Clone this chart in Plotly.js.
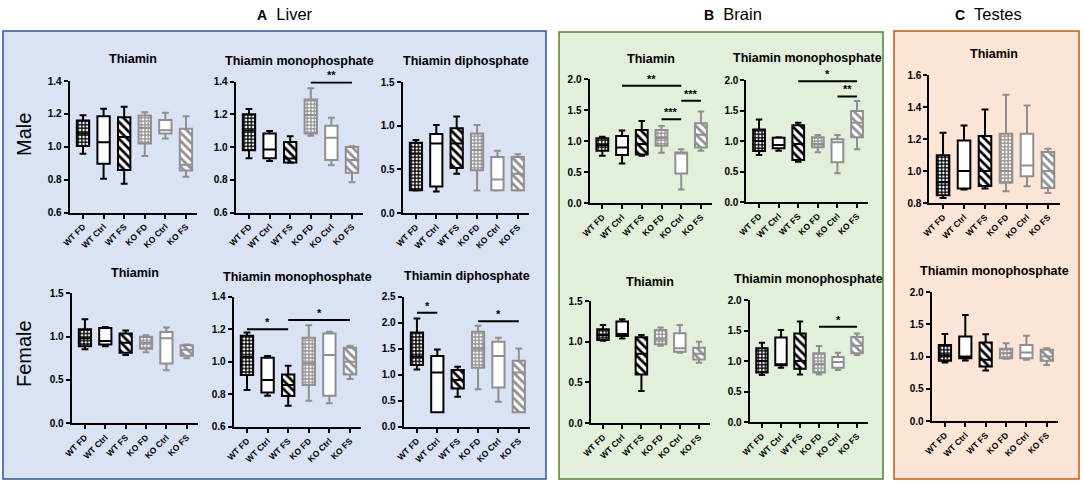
<!DOCTYPE html>
<html><head><meta charset="utf-8">
<script src="https://cdn.plot.ly/plotly-3.0.1.min.js"></script>
<style>html,body{margin:0;padding:0;background:#fff}#chart{width:1084px;height:483px}</style>
</head><body><div id="chart"></div>
<script>
const categories = ["WT FD","WT Ctrl","WT FS","KO FD","KO Ctrl","KO FS"];
// each row: [lower whisker, Q1, median, Q3, upper whisker] in category order
const liverMaleThiamin = [[0.957,1.004,1.08,1.16,1.192],[0.806,0.897,1.028,1.186,1.231],[0.775,0.858,1.06,1.18,1.243],[0.943,1.02,1.115,1.19,1.21],[1.05,1.08,1.10,1.162,1.207],[0.818,0.856,0.89,1.11,1.186]];
const liverMaleTMP = [[0.932,0.98,1.10,1.20,1.232],[0.914,0.932,0.984,1.082,1.098],[0.904,0.906,0.93,1.03,1.066],[1.068,1.082,1.195,1.29,1.359],[0.888,0.92,1.057,1.13,1.178],[0.785,0.842,0.92,1.0,1.004]];
const liverMaleTDP = [[0.258,0.26,0.68,0.804,0.835],[0.246,0.304,0.796,0.904,1.008],[0.45,0.515,0.796,0.97,1.104],[0.258,0.49,0.72,0.91,1.008],[0.258,0.26,0.385,0.642,0.712],[0.258,0.26,0.45,0.642,0.673]];
const liverFemaleThiamin = [[0.853,0.89,0.98,1.085,1.20],[0.89,0.91,0.95,1.10,1.112],[0.787,0.814,0.93,1.035,1.07],[0.82,0.86,0.93,1.0,1.015],[0.612,0.69,0.98,1.054,1.105],[0.75,0.78,0.85,0.90,0.91]];
const liverFemaleTMP = [[0.826,0.918,1.03,1.16,1.18],[0.79,0.811,0.887,1.025,1.035],[0.729,0.789,0.856,0.922,0.975],[0.76,0.856,0.99,1.148,1.225],[0.744,0.791,1.041,1.174,1.185],[0.893,0.922,1.0,1.086,1.098]];
const liverFemaleTDP = [[1.10,1.186,1.35,1.81,2.083],[0.276,0.28,1.04,1.36,1.487],[0.577,0.737,0.9,1.09,1.154],[0.718,1.135,1.5,1.827,1.942],[0.48,0.756,1.36,1.635,1.71],[0.276,0.28,1.04,1.27,1.506]];
const brainMaleThiamin = [[0.762,0.843,0.93,1.043,1.07],[0.638,0.773,0.897,1.081,1.168],[0.762,0.784,0.95,1.178,1.324],[0.81,0.924,1.05,1.178,1.243],[0.216,0.476,0.8,0.816,0.865],[0.843,0.897,1.1,1.286,1.476]];
const brainMaleTMP = [[0.77,0.836,1.0,1.19,1.354],[0.842,0.88,0.935,1.055,1.06],[0.66,0.69,0.95,1.26,1.30],[0.815,0.896,0.95,1.06,1.098],[0.47,0.65,0.978,1.027,1.098],[0.864,1.06,1.3,1.49,1.657]];
const brainFemaleThiamin = [[1.01,1.02,1.08,1.152,1.205],[1.04,1.07,1.095,1.247,1.275],[0.392,0.597,0.85,1.053,1.082],[0.95,0.967,1.03,1.144,1.173],[0.864,0.877,0.918,1.103,1.205],[0.741,0.782,0.85,0.926,1.0]];
const brainFemaleTMP = [[0.77,0.81,1.0,1.21,1.30],[0.89,0.93,0.945,1.384,1.51],[0.78,0.874,1.0,1.45,1.647],[0.78,0.81,0.95,1.126,1.247],[0.852,0.89,0.984,1.066,1.137],[1.10,1.126,1.25,1.395,1.45]];
const testesThiamin = [[0.832,0.848,0.93,1.098,1.239],[0.884,0.89,1.0,1.19,1.285],[0.89,0.906,1.0,1.218,1.384],[0.873,0.927,1.0,1.233,1.476],[0.904,0.967,1.035,1.233,1.41],[0.863,0.894,1.0,1.118,1.139]];
const testesTMP = [[0.907,0.933,1.02,1.18,1.35],[0.938,0.974,1.0,1.31,1.644],[0.783,0.845,0.95,1.216,1.345],[0.964,0.974,1.05,1.119,1.206],[0.948,0.974,1.062,1.18,1.32],[0.87,0.933,1.0,1.103,1.129]];
// significance: [from, to, level, label]
const sigLiverMaleTMP = [["KO FD","KO FS",1.394,"**"]];
const sigLiverFemaleTMP = [["WT FD","WT FS",1.20,"*"],["WT FS","KO FS",1.256,"*"]];
const sigLiverFemaleTDP = [["WT FD","WT Ctrl",2.19,"*"],["KO FD","KO FS",2.03,"*"]];
const sigBrainMaleThiamin = [["WT Ctrl","KO Ctrl",1.89,"**"],["KO FD","KO Ctrl",1.35,"***"],["KO Ctrl","KO FS",1.65,"***"]];
const sigBrainMaleTMP = [["WT FS","KO FS",1.98,"*"],["KO Ctrl","KO FS",1.73,"**"]];
const sigBrainFemaleTMP = [["KO FD","KO FS",1.56,"*"]];

const F = "Arial, 'Liberation Sans', sans-serif";
const W = 1084, H = 483;
const WT = "#000000", KO = "#8f8f8f";

const panels = [
 {rows:liverMaleThiamin, title:"Thiamin", yr:[0.6,1.4], dt:0.2, px:[69.6,197.3], py:[81,212.5], ty:59, sig:[]},
 {rows:liverMaleTMP, title:"Thiamin monophosphate", yr:[0.6,1.4], dt:0.2, px:[235.6,363.3], py:[81.5,212.5], ty:61, sig:sigLiverMaleTMP},
 {rows:liverMaleTDP, title:"Thiamin diphosphate", yr:[0,1.5], dt:0.5, px:[402.7,529], py:[82,213], ty:61.5, sig:[]},
 {rows:liverFemaleThiamin, title:"Thiamin", yr:[0,1.5], dt:0.5, px:[71.7,198], py:[293.3,423.3], ty:273, sig:[]},
 {rows:liverFemaleTMP, title:"Thiamin monophosphate", yr:[0.6,1.4], dt:0.2, px:[233.6,361.3], py:[296.7,426.7], ty:277, sig:sigLiverFemaleTMP},
 {rows:liverFemaleTDP, title:"Thiamin diphosphate", yr:[0,2.5], dt:0.5, px:[403.7,530], py:[296.7,426.7], ty:276, sig:sigLiverFemaleTDP},
 {rows:brainMaleThiamin, title:"Thiamin", yr:[0,2], dt:0.5, px:[589.5,711.8], py:[79,203], ty:59, sig:sigBrainMaleThiamin},
 {rows:brainMaleTMP, title:"Thiamin monophosphate", yr:[0,2], dt:0.5, px:[746.3,867.8], py:[80,202], ty:58, sig:sigBrainMaleTMP},
 {rows:brainFemaleThiamin, title:"Thiamin", yr:[0,1.5], dt:0.5, px:[590.5,709.6], py:[301,423], ty:282, sig:[]},
 {rows:brainFemaleTMP, title:"Thiamin monophosphate", yr:[0,2], dt:0.5, px:[749.6,867.5], py:[300,422], ty:279, sig:sigBrainFemaleTMP},
 {rows:testesThiamin, title:"Thiamin", yr:[0.8,1.6], dt:0.2, px:[929.4,1059.5], py:[75,203], ty:54, sig:[]},
 {rows:testesTMP, title:"Thiamin monophosphate", yr:[0,2], dt:0.5, px:[931.7,1058], py:[292,421], ty:271, sig:[]}
];

const traces = [];
const hdr = (x, letter, word) => ({xref:"paper", yref:"paper", x:x/W, y:1-14/H, xanchor:"center", yanchor:"middle",
  text:"<b><span style='font-size:14px'>" + letter + "</span></b>  " + word, showarrow:false, font:{family:F,size:16.5,color:"#000"}});
const layout = {
  width: W, height: H, margin:{l:0,r:0,t:0,b:0},
  paper_bgcolor:"#ffffff", plot_bgcolor:"rgba(0,0,0,0)",
  showlegend:false, boxmode:"overlay", barmode:"overlay",
  font:{family:F, color:"#000"},
  shapes:[
    {type:"rect", xref:"paper", yref:"paper", x0:3/W, x1:546/W, y0:1-479/H, y1:1-31/H, fillcolor:"#dae3f3", line:{color:"#2f5597", width:1.5}, layer:"below"},
    {type:"rect", xref:"paper", yref:"paper", x0:559/W, x1:883/W, y0:1-479/H, y1:1-32/H, fillcolor:"#e2efda", line:{color:"#548235", width:1.5}, layer:"below"},
    {type:"rect", xref:"paper", yref:"paper", x0:894/W, x1:1079/W, y0:1-479/H, y1:1-31/H, fillcolor:"#fbe5d6", line:{color:"#c55a11", width:1.5}, layer:"below"}
  ],
  annotations:[
    hdr(285, "A", "Liver"), hdr(733, "B", "Brain"), hdr(988, "C", "Testes"),
    {xref:"paper", yref:"paper", x:24/W, y:1-135/H, xanchor:"center", yanchor:"middle", text:"Male", textangle:-90, showarrow:false, font:{family:F,size:20,color:"#000"}},
    {xref:"paper", yref:"paper", x:24/W, y:1-354/H, xanchor:"center", yanchor:"middle", text:"Female", textangle:-90, showarrow:false, font:{family:F,size:20,color:"#000"}}
  ]
};

panels.forEach((p, i) => {
  const k = i + 1;
  const xa = "x" + (k === 1 ? "" : k), ya = "y" + (k === 1 ? "" : k);
  const xl = "xaxis" + (k === 1 ? "" : k), yl = "yaxis" + (k === 1 ? "" : k);
  const q1 = p.rows.map(r => r[1]);
  const q3 = p.rows.map(r => r[3]);
  traces.push({
    type:"bar", x:categories, base:q1, y:q3.map((v, j) => v - q1[j]), width:0.6,
    xaxis:xa, yaxis:ya, hoverinfo:"skip",
    marker:{color:"#ffffff", line:{width:0},
      pattern:{
        shape:categories.map(c => c.endsWith("FD") ? "+" : (c.endsWith("FS") ? "\\" : "")),
        fgcolor:categories.map(c => c.startsWith("WT") ? WT : KO),
        bgcolor:"#ffffff",
        size:categories.map(c => c.endsWith("FD") ? 3.5 : 6),
        solidity:categories.map(c => c.endsWith("FD") ? 0.6 : 0.45),
        fillmode:"replace"}}
  });
  [[0,3,WT],[3,6,KO]].forEach(([a, b, col]) => {
    const rows = p.rows.slice(a, b);
    traces.push({
      type:"box", x:categories.slice(a, b),
      lowerfence:rows.map(r => r[0]), q1:rows.map(r => r[1]), median:rows.map(r => r[2]),
      q3:rows.map(r => r[3]), upperfence:rows.map(r => r[4]),
      width:0.6, whiskerwidth:0.55, boxpoints:false,
      line:{color:col, width:2}, fillcolor:"rgba(0,0,0,0)",
      xaxis:xa, yaxis:ya, hoverinfo:"skip"
    });
  });
  layout[xl] = {
    domain:[p.px[0]/W, p.px[1]/W], anchor:ya, type:"category",
    categoryorder:"array", categoryarray:categories, range:[-0.65, 5.55],
    showline:true, linewidth:2, linecolor:"#000", mirror:false,
    ticks:"outside", ticklen:4, tickwidth:2, tickcolor:"#000", tickangle:-45,
    tickfont:{family:F, size:8.5, color:"#000", weight:"bold"},
    showgrid:false, zeroline:false, fixedrange:true
  };
  layout[yl] = {
    domain:[1 - p.py[1]/H, 1 - p.py[0]/H], anchor:xa, range:p.yr,
    tick0:p.yr[0], dtick:p.dt, tickformat:".1f",
    showline:true, linewidth:2, linecolor:"#000",
    ticks:"outside", ticklen:4, tickwidth:2, tickcolor:"#000",
    tickfont:{family:F, size:10, color:"#000", weight:"bold"},
    showgrid:false, zeroline:false, fixedrange:true
  };
  layout.annotations.push({
    xref:"paper", yref:"paper", x:(p.px[0] + p.px[1]) / 2 / W, y:1 - p.ty / H,
    text:"<b>" + p.title + "</b>", showarrow:false, xanchor:"center", yanchor:"middle",
    font:{family:F, size:12.5, color:"#000"}
  });
  p.sig.forEach(([from, to, lvl, lab]) => {
    const i0 = categories.indexOf(from), i1 = categories.indexOf(to);
    layout.shapes.push({type:"line", xref:xa, yref:ya, x0:i0, x1:i1, y0:lvl, y1:lvl, line:{color:"#000", width:2}});
    layout.annotations.push({xref:xa, yref:ya, x:(i0 + i1) / 2, y:lvl, text:"<b>" + lab + "</b>",
      showarrow:false, xanchor:"center", yanchor:"bottom", yshift:-1,
      font:{family:F, size:11, color:"#000"}});
  });
});

Plotly.newPlot("chart", traces, layout, {staticPlot:true, displayModeBar:false});
</script>
</body></html>
